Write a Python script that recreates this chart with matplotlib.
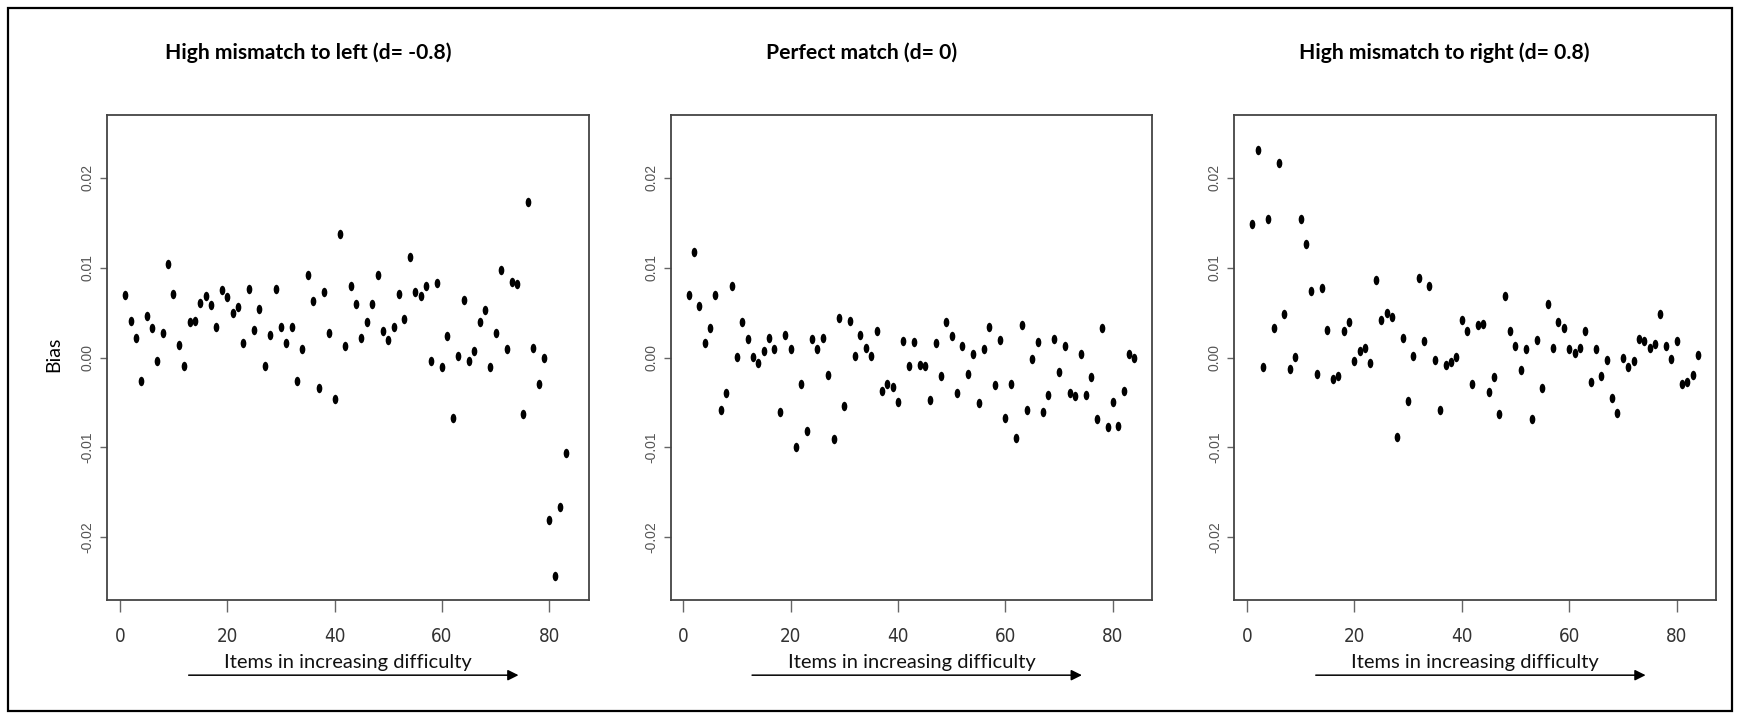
import numpy as np
import matplotlib
matplotlib.use('Agg')
import matplotlib.pyplot as plt
from matplotlib.path import Path
from matplotlib.transforms import Affine2D
from matplotlib.patches import Rectangle

# ---------------- data ----------------
titles = ["High mismatch to left (d= -0.8)",
          "Perfect match (d= 0)",
          "High mismatch to right (d= 0.8)"]

bias_left = [0.0070, 0.0041, 0.0022, -0.0026, 0.0046, 0.0033, -0.0004, 0.0027, 0.0104, 0.0071,
             0.0014, -0.0010, 0.0039, 0.0041, 0.0061, 0.0068, 0.0059, 0.0034, 0.0075, 0.0067,
             0.0050, 0.0056, 0.0016, 0.0076, 0.0031, 0.0054, -0.0010, 0.0025, 0.0076, 0.0034,
             0.0016, 0.0034, -0.0026, 0.0010, 0.0092, 0.0063, -0.0034, 0.0073, 0.0027, -0.0046,
             0.0138, 0.0013, 0.0080, 0.0060, 0.0022, 0.0039, 0.0060, 0.0092, 0.0030, 0.0020,
             0.0034, 0.0071, 0.0043, 0.0112, 0.0073, 0.0068, 0.0080, -0.0004, 0.0083, -0.0011,
             0.0024, -0.0067, 0.0002, 0.0064, -0.0004, 0.0007, 0.0039, 0.0053, -0.0011, 0.0027,
             0.0097, 0.0009, 0.0084, 0.0082, -0.0063, 0.0173, 0.0011, -0.0030, 0.0000, -0.0181,
             -0.0243, -0.0166, -0.0106]

bias_match = [0.0070, 0.0118, 0.0057, 0.0016, 0.0033, 0.0070, -0.0059, -0.0040, 0.0080, 0.0001,
              0.0039, 0.0021, 0.0001, -0.0006, 0.0007, 0.0022, 0.0009, -0.0061, 0.0025, 0.0010,
              -0.0100, -0.0029, -0.0082, 0.0021, 0.0009, 0.0022, -0.0019, -0.0091, 0.0044, -0.0054,
              0.0041, 0.0002, 0.0025, 0.0011, 0.0002, 0.0029, -0.0037, -0.0029, -0.0033, -0.0049,
              0.0018, -0.0009, 0.0017, -0.0008, -0.0010, -0.0047, 0.0016, -0.0021, 0.0039, 0.0024,
              -0.0040, 0.0013, -0.0018, 0.0004, -0.0051, 0.0009, 0.0034, -0.0031, 0.0020, -0.0067,
              -0.0030, -0.0090, 0.0036, -0.0059, -0.0002, 0.0017, -0.0061, -0.0042, 0.0021, -0.0016,
              0.0013, -0.0040, -0.0043, 0.0004, -0.0042, -0.0022, -0.0068, 0.0033, -0.0077, -0.0049,
              -0.0076, -0.0037, 0.0004, 0.0000]

bias_right = [0.0149, 0.0231, -0.0011, 0.0154, 0.0033, 0.0217, 0.0048, -0.0013, 0.0001, 0.0154,
              0.0126, 0.0074, -0.0018, 0.0077, 0.0031, -0.0024, -0.0021, 0.0029, 0.0039, -0.0004,
              0.0007, 0.0011, -0.0006, 0.0086, 0.0042, 0.0050, 0.0045, -0.0088, 0.0022, -0.0048,
              0.0002, 0.0088, 0.0018, 0.0080, -0.0003, -0.0059, -0.0008, -0.0005, 0.0001, 0.0042,
              0.0030, -0.0029, 0.0036, 0.0037, -0.0038, -0.0022, -0.0063, 0.0069, 0.0030, 0.0013,
              -0.0014, 0.0010, -0.0068, 0.0020, -0.0034, 0.0060, 0.0011, 0.0039, 0.0033, 0.0010,
              0.0005, 0.0011, 0.0030, -0.0027, 0.0010, -0.0021, -0.0003, -0.0045, -0.0062, -0.0001,
              -0.0011, -0.0004, 0.0021, 0.0018, 0.0011, 0.0015, 0.0048, 0.0013, -0.0002, 0.0018,
              -0.0029, -0.0027, -0.0019, 0.0003]

series = [bias_left, bias_match, bias_right]

x_ticks = [0, 20, 40, 60, 80]
y_ticks = [-0.02, -0.01, 0.00, 0.01, 0.02]
y_tick_labels = ["-0.02", "-0.01", "0.00", "0.01", "0.02"]
x_label = "Items in increasing difficulty"
y_label = "Bias"

# ---------------- figure ----------------
W, H = 1740, 719
fig = plt.figure(figsize=(W / 100, H / 100), dpi=100)
fig.patch.set_facecolor('white')

# outer frame
fig.patches.append(Rectangle((8 / W, 8 / H), (1732 - 8) / W, (711 - 8) / H,
                             transform=fig.transFigure, fill=False,
                             edgecolor='black', linewidth=1.6))

ax_lefts = [107.3, 670.7, 1234.4]
ax_width = 481.5
ax_top, ax_bot = 115, 600
title_cx = [308, 862, 1444]
title_y = 53

ellipse = Path.unit_circle().transformed(Affine2D().scale(0.6, 1.0))

tick_font = dict(family=['Liberation Sans Narrow', 'DejaVu Sans'], stretch='condensed')
label_font = ['Lato', 'DejaVu Sans']

for i, (vals, title) in enumerate(zip(series, titles)):
    ax = fig.add_axes([ax_lefts[i] / W, 1 - ax_bot / H, ax_width / W, (ax_bot - ax_top) / H])
    xs = np.arange(1, len(vals) + 1)
    ax.plot(xs, vals, linestyle='none', marker=ellipse, markersize=6.8,
            color='black', markeredgewidth=0)
    ax.set_xlim(-2.32, 87.32)
    ax.set_ylim(-0.027, 0.027)
    ax.set_xticks(x_ticks)
    ax.set_xticklabels([str(t) for t in x_ticks], fontsize=13.5, color='#333333', **tick_font)
    ax.set_yticks(y_ticks)
    ax.set_yticklabels(y_tick_labels, rotation=90, va='center', fontsize=10,
                       color='#555555', family=['Liberation Sans', 'DejaVu Sans'])
    ax.tick_params(axis='x', length=8.6, width=1.0, color='#666666', pad=11)
    ax.tick_params(axis='y', length=5, width=1.0, color='#666666', pad=4)
    for s in ax.spines.values():
        s.set_color('#444444')
        s.set_linewidth(1.3)

    ax.text(0.5, -0.128, x_label, transform=ax.transAxes, ha='center', va='center',
            fontsize=14.5, family=label_font, color='#111111')
    ax.annotate('', xy=(0.854, -0.155), xytext=(0.169, -0.155),
                xycoords='axes fraction', textcoords='axes fraction',
                arrowprops=dict(arrowstyle='-|>', color='black', lw=1.1,
                                mutation_scale=16, shrinkA=0, shrinkB=0),
                annotation_clip=False)

    fig.text(title_cx[i] / W, 1 - title_y / H, title, ha='center', va='center',
             fontsize=15.2, fontweight='bold', family=label_font, color='black')

fig.text(54 / W, 1 - 354 / H, y_label, rotation=90, ha='center', va='center',
         fontsize=14, family=label_font, color='black')

fig.savefig('out.png', dpi=100, facecolor='white')
